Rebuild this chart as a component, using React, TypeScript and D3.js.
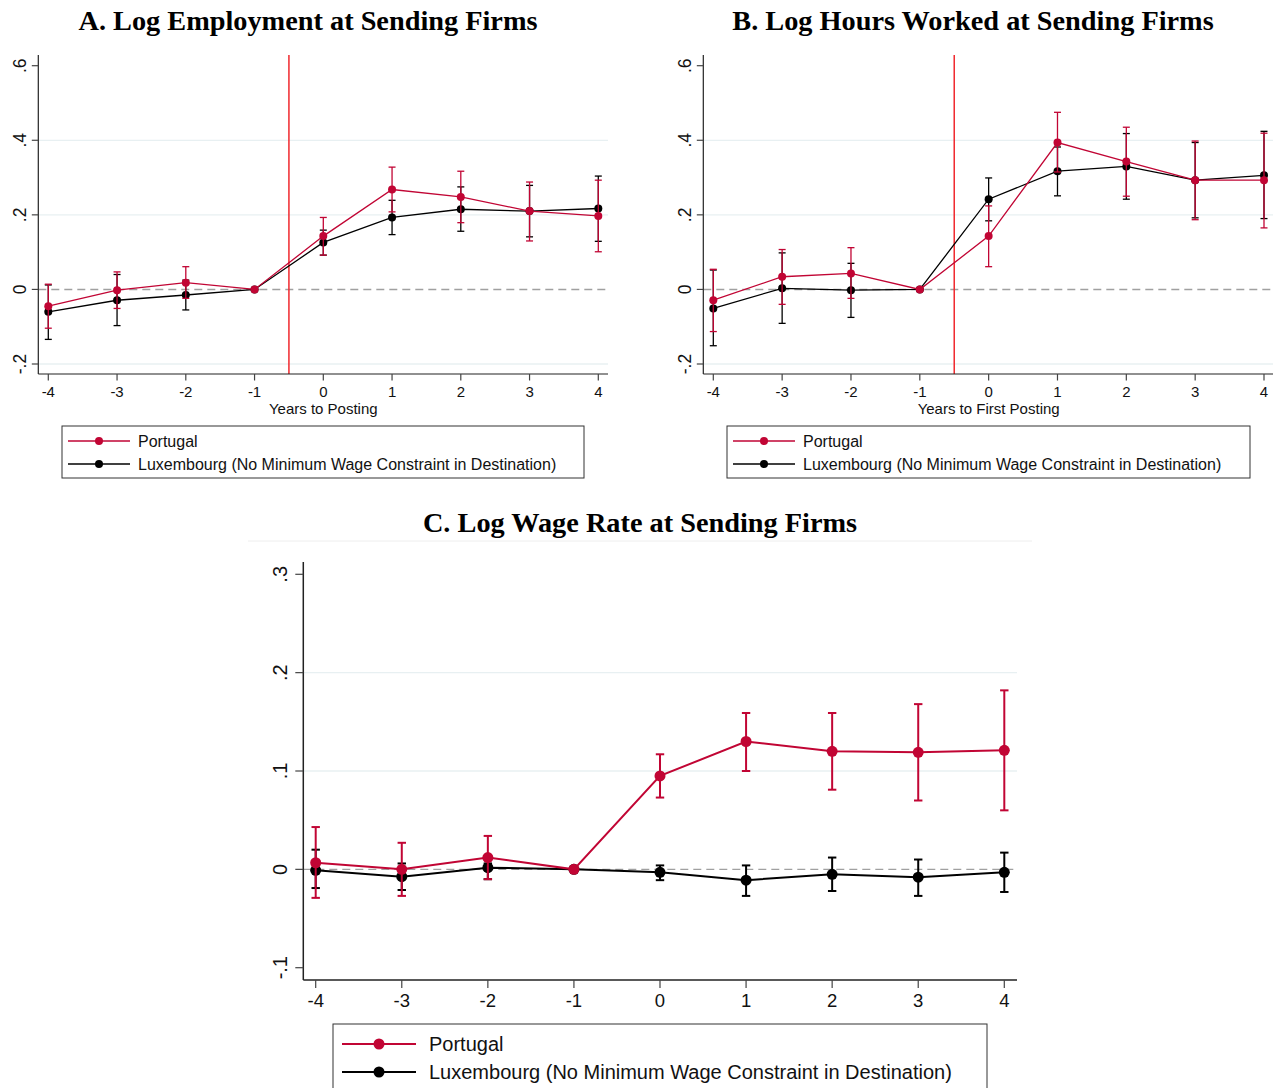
import React from "react";
import * as d3 from "d3";

const years = [-4, -3, -2, -1, 0, 1, 2, 3, 4];

// Panel A: log employment
const empPtEst = [-0.045, -0.002, 0.018, 0, 0.143, 0.268, 0.248, 0.21, 0.197];
const empPtLo = [-0.104, -0.051, -0.024, 0, 0.092, 0.208, 0.179, 0.13, 0.101];
const empPtHi = [0.014, 0.047, 0.061, 0, 0.193, 0.328, 0.317, 0.288, 0.293];
const empLuEst = [-0.06, -0.029, -0.015, 0, 0.126, 0.193, 0.215, 0.21, 0.217];
const empLuLo = [-0.134, -0.097, -0.055, 0, 0.092, 0.147, 0.156, 0.141, 0.129];
const empLuHi = [0.012, 0.04, 0.025, 0, 0.159, 0.239, 0.275, 0.279, 0.304];

// Panel B: log hours
const hrsPtEst = [-0.029, 0.034, 0.043, 0, 0.143, 0.394, 0.343, 0.293, 0.293];
const hrsPtLo = [-0.113, -0.04, -0.024, 0, 0.061, 0.315, 0.25, 0.187, 0.165];
const hrsPtHi = [0.054, 0.107, 0.112, 0, 0.224, 0.475, 0.435, 0.398, 0.419];
const hrsLuEst = [-0.051, 0.003, -0.002, 0, 0.242, 0.317, 0.33, 0.293, 0.306];
const hrsLuLo = [-0.151, -0.091, -0.075, 0, 0.184, 0.251, 0.242, 0.192, 0.19];
const hrsLuHi = [0.052, 0.098, 0.07, 0, 0.299, 0.382, 0.418, 0.394, 0.424];

// Panel C: log wage rate
const wagePtEst = [0.0067, 0.0, 0.012, 0, 0.095, 0.13, 0.12, 0.119, 0.121];
const wagePtLo = [-0.029, -0.027, -0.01, 0, 0.073, 0.1, 0.081, 0.07, 0.06];
const wagePtHi = [0.043, 0.027, 0.034, 0, 0.117, 0.159, 0.159, 0.168, 0.182];
const wageLuEst = [-0.001, -0.0075, 0.0017, 0, -0.003, -0.011, -0.005, -0.008, -0.003];
const wageLuLo = [-0.019, -0.021, -0.01, 0, -0.011, -0.027, -0.022, -0.027, -0.023];
const wageLuHi = [0.02, 0.006, 0.006, 0, 0.004, 0.004, 0.012, 0.01, 0.017];

const yTicksAB = [-0.2, 0, 0.2, 0.4, 0.6];
const yTickLabelsAB = ["-.2", "0", ".2", ".4", ".6"];
const yTicksC = [-0.1, 0, 0.1, 0.2, 0.3];
const yTickLabelsC = ["-.1", "0", ".1", ".2", ".3"];

const seriesNames = ["Portugal", "Luxembourg (No Minimum Wage Constraint in Destination)"];

const RED = "#c10534";
const BLACK = "#000000";
const GRID = "#e8f0f2";
const SANS = "'Liberation Sans', Arial, Helvetica, sans-serif";
const SERIF = "'Liberation Serif', 'Times New Roman', serif";

type Series = { est: number[]; lo: number[]; hi: number[]; color: string };

type PanelProps = {
  title: string;
  titleX: number;
  titleY: number;
  titleSize: number;
  xRange: [number, number];
  yDomain: [number, number];
  yRange: [number, number];
  axisX: number;
  axisTop: number;
  axisBottom: number;
  axisRight: number;
  yTicks: number[];
  yTickLabels: string[];
  gridTicks: number[];
  xLabel?: string;
  vline?: number;
  series: Series[];
  fontSize: number;
  yFontSize: number;
  xLabelDy: number;
  yLabelX: number;
  lineW: number;
  r: number;
  cap: number;
  tickLen: number;
  axisW: number;
};

function Panel(p: PanelProps) {
  const x = d3.scaleLinear().domain([-4, 4]).range(p.xRange);
  const y = d3.scaleLinear().domain(p.yDomain).range(p.yRange);
  const line = d3
    .line<number>()
    .x((_, i) => x(years[i]))
    .y((d) => y(d));
  return (
    <g>
      <text
        x={p.titleX}
        y={p.titleY}
        textAnchor="middle"
        fontFamily={SERIF}
        fontWeight="bold"
        fontSize={p.titleSize}
        fill="#000"
      >
        {p.title}
      </text>
      {p.gridTicks.map((t) => (
        <line key={"g" + t} x1={p.axisX} x2={p.axisRight} y1={y(t)} y2={y(t)} stroke={GRID} strokeWidth={1.3} />
      ))}
      <line
        x1={p.axisX}
        x2={p.axisRight}
        y1={y(0)}
        y2={y(0)}
        stroke="#a0a0a0"
        strokeWidth={1.4}
        strokeDasharray="8,5"
      />
      {p.vline !== undefined && (
        <line x1={x(p.vline)} x2={x(p.vline)} y1={p.axisTop} y2={p.axisBottom} stroke="#f0282d" strokeWidth={1.5} />
      )}
      <line x1={p.axisX} x2={p.axisX} y1={p.axisTop} y2={p.axisBottom} stroke="#222" strokeWidth={p.axisW} />
      <line x1={p.axisX} x2={p.axisRight} y1={p.axisBottom} y2={p.axisBottom} stroke="#222" strokeWidth={p.axisW} />
      {p.yTicks.map((t, i) => (
        <g key={"yt" + t}>
          <line x1={p.axisX - p.tickLen} x2={p.axisX} y1={y(t)} y2={y(t)} stroke="#444" strokeWidth={1.2} />
          <text
            transform={`translate(${p.yLabelX},${y(t)}) rotate(-90)`}
            textAnchor="middle"
            fontFamily={SANS}
            fontSize={p.yFontSize}
            fill="#111"
          >
            {p.yTickLabels[i]}
          </text>
        </g>
      ))}
      {years.map((t) => (
        <g key={"xt" + t}>
          <line x1={x(t)} x2={x(t)} y1={p.axisBottom} y2={p.axisBottom + p.tickLen} stroke="#444" strokeWidth={1.2} />
          <text
            x={x(t)}
            y={p.axisBottom + p.xLabelDy}
            textAnchor="middle"
            fontFamily={SANS}
            fontSize={p.fontSize}
            fill="#111"
          >
            {String(t)}
          </text>
        </g>
      ))}
      {p.xLabel && (
        <text
          x={x(0)}
          y={p.axisBottom + p.xLabelDy + p.fontSize + 2}
          textAnchor="middle"
          fontFamily={SANS}
          fontSize={p.fontSize}
          fill="#111"
        >
          {p.xLabel}
        </text>
      )}
      {p.series.map((s, si) => (
        <g key={"s" + si}>
          {years.map((t, i) => (
            <g key={"e" + i} stroke={s.color} strokeWidth={p.lineW}>
              <line x1={x(t)} x2={x(t)} y1={y(s.lo[i])} y2={y(s.hi[i])} />
              <line x1={x(t) - p.cap} x2={x(t) + p.cap} y1={y(s.lo[i])} y2={y(s.lo[i])} />
              <line x1={x(t) - p.cap} x2={x(t) + p.cap} y1={y(s.hi[i])} y2={y(s.hi[i])} />
            </g>
          ))}
          <path d={line(s.est) || ""} fill="none" stroke={s.color} strokeWidth={p.lineW} />
          {years.map((t, i) => (
            <circle key={"c" + i} cx={x(t)} cy={y(s.est[i])} r={p.r} fill={s.color} />
          ))}
        </g>
      ))}
    </g>
  );
}

type LegendProps = {
  x: number;
  y: number;
  w: number;
  h: number;
  fontSize: number;
  lineX1: number;
  lineX2: number;
  textX: number;
  row1: number;
  row2: number;
  r: number;
  lineW: number;
};

function Legend(p: LegendProps) {
  const colors = [RED, BLACK];
  const rows = [p.row1, p.row2];
  return (
    <g>
      <rect x={p.x} y={p.y} width={p.w} height={p.h} fill="#fff" stroke="#333" strokeWidth={1} />
      {seriesNames.map((n, i) => (
        <g key={n}>
          <line x1={p.lineX1} x2={p.lineX2} y1={rows[i]} y2={rows[i]} stroke={colors[i]} strokeWidth={p.lineW} />
          <circle cx={(p.lineX1 + p.lineX2) / 2} cy={rows[i]} r={p.r} fill={colors[i]} />
          <text x={p.textX} y={rows[i] + p.fontSize * 0.36} fontFamily={SANS} fontSize={p.fontSize} fill="#111">
            {n}
          </text>
        </g>
      ))}
    </g>
  );
}

export default function App() {
  return (
    <svg
      width={1276}
      height={1088}
      style={{ position: "absolute", left: 0, top: 0, background: "#fff" }}
    >
      <rect x={0} y={0} width={1276} height={1088} fill="#fff" />
      <Panel
        title="A. Log Employment at Sending Firms"
        titleX={308}
        titleY={30}
        titleSize={28.3}
        xRange={[48.3, 598.3]}
        yDomain={[-0.2, 0.6]}
        yRange={[364, 65.7]}
        axisX={38.3}
        axisTop={55}
        axisBottom={374}
        axisRight={608}
        yTicks={yTicksAB}
        yTickLabels={yTickLabelsAB}
        gridTicks={[-0.2, 0.2, 0.4]}
        xLabel="Years to Posting"
        vline={-0.5}
        series={[
          { est: empLuEst, lo: empLuLo, hi: empLuHi, color: BLACK },
          { est: empPtEst, lo: empPtLo, hi: empPtHi, color: RED },
        ]}
        fontSize={15}
        yFontSize={17.5}
        xLabelDy={23}
        yLabelX={26}
        lineW={1.3}
        r={4}
        cap={3.5}
        tickLen={6.5}
        axisW={1.2}
      />
      <Panel
        title="B. Log Hours Worked at Sending Firms"
        titleX={973}
        titleY={30}
        titleSize={28.3}
        xRange={[713.3, 1264]}
        yDomain={[-0.2, 0.6]}
        yRange={[364, 65.7]}
        axisX={703.3}
        axisTop={55}
        axisBottom={374}
        axisRight={1273}
        yTicks={yTicksAB}
        yTickLabels={yTickLabelsAB}
        gridTicks={[-0.2, 0.2, 0.4]}
        xLabel="Years to First Posting"
        vline={-0.5}
        series={[
          { est: hrsLuEst, lo: hrsLuLo, hi: hrsLuHi, color: BLACK },
          { est: hrsPtEst, lo: hrsPtLo, hi: hrsPtHi, color: RED },
        ]}
        fontSize={15}
        yFontSize={17.5}
        xLabelDy={23}
        yLabelX={690.5}
        lineW={1.3}
        r={4}
        cap={3.5}
        tickLen={6.5}
        axisW={1.2}
      />
      <line x1={248} x2={1032} y1={541} y2={541} stroke="#eeeeee" strokeWidth={1} />
      <Panel
        title="C. Log Wage Rate at Sending Firms"
        titleX={640}
        titleY={532}
        titleSize={28.3}
        xRange={[315.7, 1004.3]}
        yDomain={[-0.1, 0.3]}
        yRange={[967.7, 574.3]}
        axisX={303.3}
        axisTop={562}
        axisBottom={980}
        axisRight={1017}
        yTicks={yTicksC}
        yTickLabels={yTickLabelsC}
        gridTicks={[0.1, 0.2]}
        series={[
          { est: wageLuEst, lo: wageLuLo, hi: wageLuHi, color: BLACK },
          { est: wagePtEst, lo: wagePtLo, hi: wagePtHi, color: RED },
        ]}
        fontSize={18.5}
        yFontSize={20}
        xLabelDy={27}
        yLabelX={287}
        lineW={2}
        r={5.5}
        cap={4.2}
        tickLen={8}
        axisW={1.5}
      />
      <Legend x={62} y={426} w={522} h={52} fontSize={16} lineX1={68} lineX2={130} textX={138} row1={441} row2={464} r={4} lineW={1.3} />
      <Legend x={727} y={426} w={523} h={52} fontSize={16} lineX1={733} lineX2={795} textX={803} row1={441} row2={464} r={4} lineW={1.3} />
      <Legend x={333} y={1024} w={654} h={70} fontSize={20} lineX1={342} lineX2={416} textX={429} row1={1044} row2={1072} r={5.5} lineW={1.8} />
    </svg>
  );
}
